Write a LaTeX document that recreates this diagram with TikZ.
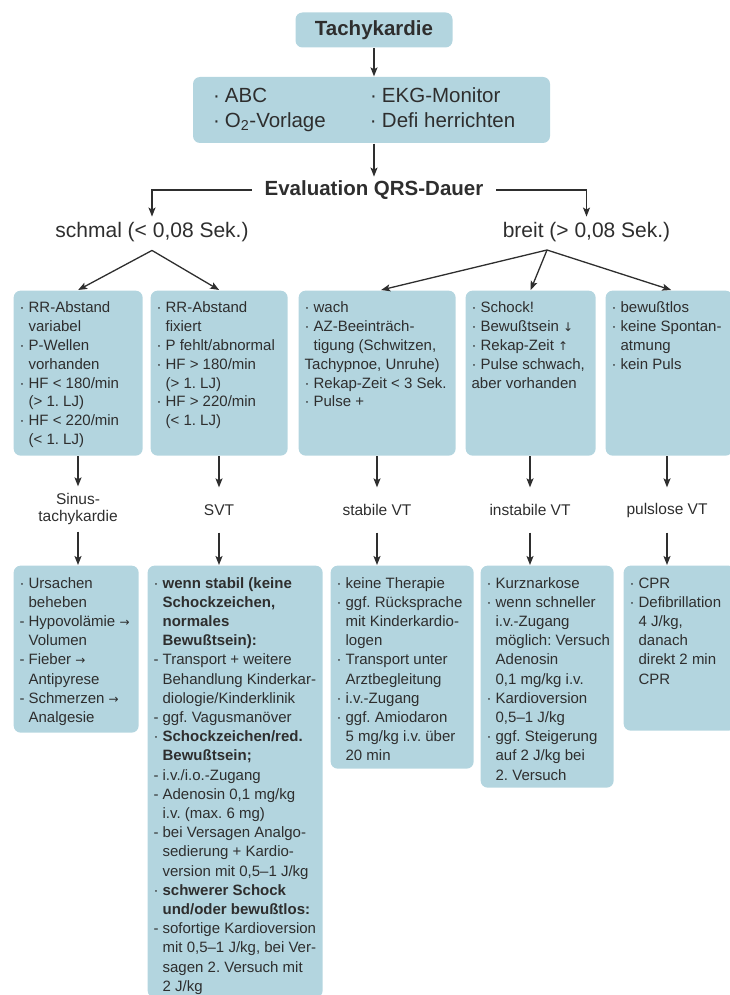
\documentclass[tikz,border=0pt]{standalone}
\usepackage{fontspec}
\setmainfont{Liberation Sans}
\newfontfamily\symfont{DejaVu Sans}
\usetikzlibrary{arrows.meta, positioning, calc}
\definecolor{cbox}{HTML}{B3D5DF}
\definecolor{cink}{HTML}{2E2E2E}
\tikzset{
  every picture/.style={line width=1.3pt},
  box/.style={fill=cbox, rounded corners=7pt, anchor=north west, inner xsep=6pt, inner ysep=9pt, text=cink},
  rowtop/.style={box, font=\fontsize{15}{18.8}\selectfont},
  rowbot/.style={box, font=\fontsize{15}{19.2}\selectfont},
  head/.style={font=\fontsize{20.5}{25}\bfseries\selectfont, text=cink},
  lbl/.style={font=\fontsize{15.5}{17.5}\selectfont, align=center, minimum height=44pt, inner sep=0pt, text=cink},
  arrow/.style={-{Stealth[length=9pt, width=7pt, inset=2pt]}, draw=cink, line width=1.3pt},
}
\frenchspacing
\newcommand{\bul}{\makebox[9pt][l]{·}}
\newcommand{\dbul}{\makebox[9pt][l]{-}}
\newcommand{\ind}{\hspace*{9pt}}
\newcommand{\sar}[1]{{\symfont\fontsize{12}{12}\selectfont #1}}
\newcommand{\inbox}[3]{\parbox[c][#2pt][t]{#1pt}{\begin{tabular}[t]{@{}l@{}}#3\end{tabular}}}

\begin{document}
\begin{tikzpicture}[x=1pt, y=-1pt]
  \useasboundingbox (0,0) rectangle (730,995);
  % head
  \node[head, fill=cbox, rounded corners=7pt, minimum width=157pt, minimum height=35pt] (tachy) at (374,30) {Tachykardie};
  \node[fill=cbox, rounded corners=7pt, minimum width=357pt, minimum height=66pt, inner sep=0pt, text=cink,
        font=\fontsize{20.5}{25}\selectfont] (prep) at (371.5,110)
    {\begin{tabular}{@{}p{157pt}@{}p{160pt}@{}}
       \makebox[12pt][l]{·}ABC & \makebox[12pt][l]{·}EKG-Monitor\\
       \makebox[12pt][l]{·}O\textsubscript{2}-Vorlage & \makebox[12pt][l]{·}Defi herrichten
     \end{tabular}};
  \node[head, inner xsep=12pt] (qrs) at (374,190) {Evaluation QRS-Dauer};
  \node[font=\fontsize{21}{25}\selectfont, text=cink, inner sep=5pt] (schmal) at (152,232) {schmal (< 0,08 Sek.)};
  \node[font=\fontsize{21}{25}\selectfont, text=cink, inner sep=5pt] (breit) at (586.5,232) {breit (> 0,08 Sek.)};
  \coordinate (ssplit) at ([yshift=-3pt]schmal.south);
  \coordinate (bsplit) at (547,250);

  % criteria
  \node[rowtop] (rrvar) at (13,290) {\inbox{117}{147}{%
    \bul RR-Abstand\\ \ind variabel\\ \bul P-Wellen\\ \ind vorhanden\\
    \bul HF < 180/min\\ \ind(> 1. LJ)\\ \bul HF < 220/min\\ \ind(< 1. LJ)}};
  \node[rowtop] (rrfix) at (150,290) {\inbox{125}{147}{%
    \bul RR-Abstand\\ \ind fixiert\\ \bul P fehlt/abnormal\\ \bul HF > 180/min\\
    \ind(> 1. LJ)\\ \bul HF > 220/min\\ \ind(< 1. LJ)}};
  \node[rowtop] (wach) at (298,290) {\inbox{145}{147}{%
    \bul wach\\ \bul AZ-Beeinträch-\\ \ind tigung (Schwitzen,\\ Tachypnoe, Unruhe)\\
    \bul Rekap-Zeit < 3 Sek.\\ \bul Pulse +}};
  \node[rowtop] (schock) at (465,290) {\inbox{118}{147}{%
    \bul Schock!\\ \bul Bewußtsein \sar{↓}\\ \bul Rekap-Zeit \sar{↑}\\
    \bul Pulse schwach,\\ aber vorhanden}};
  \node[rowtop] (bewl) at (605,290) {\inbox{115}{147}{%
    \bul bewußtlos\\ \bul keine Spontan-\\ \ind atmung\\ \bul kein Puls}};

  % diagnoses
  \node[lbl] (sinus) at (78,509) {Sinus-\\tachykardie};
  \node[lbl] (svt) at (219,510) {SVT};
  \node[lbl] (stvt) at (377,510) {stabile VT};
  \node[lbl] (instvt) at (530,510) {instabile VT};
  \node[lbl] (plvt) at (667,510) {pulslose VT};

  % therapy
  \node[rowbot] (ursa) at (13,565) {\inbox{113}{149}{%
    \bul Ursachen\\ \ind beheben\\ \dbul Hypovolämie \sar{→}\\ \ind Volumen\\
    \dbul Fieber \sar{→}\\ \ind Antipyrese\\ \dbul Schmerzen \sar{→}\\ \ind Analgesie}};
  \node[rowbot] (svtther) at (147,565) {\inbox{163}{414}{%
    \bul\textbf{wenn stabil (keine}\\ \ind\textbf{Schockzeichen,}\\ \ind\textbf{normales}\\ \ind\textbf{Bewußtsein):}\\
    \dbul Transport + weitere\\ \ind Behandlung Kinderkar-\\ \ind diologie/Kinderklinik\\
    \dbul ggf. Vagusmanöver\\
    \bul\textbf{Schockzeichen/red.}\\ \ind\textbf{Bewußtsein;}\\
    \dbul i.v./i.o.-Zugang\\ \dbul Adenosin 0,1 mg/kg\\ \ind i.v. (max. 6 mg)\\
    \dbul bei Versagen Analgo-\\ \ind sedierung + Kardio-\\ \ind version mit 0,5–1 J/kg\\
    \bul\textbf{schwerer Schock}\\ \ind\textbf{und/oder bewußtlos:}\\
    \dbul sofortige Kardioversion\\ \ind mit 0,5–1 J/kg, bei Ver-\\ \ind sagen 2. Versuch mit\\ \ind 2 J/kg}};
  \node[rowbot] (stther) at (330,565) {\inbox{131}{185}{%
    \bul keine Therapie\\ \bul ggf. Rücksprache\\ \ind mit Kinderkardio-\\ \ind logen\\
    \bul Transport unter\\ \ind Arztbegleitung\\ \bul i.v.-Zugang\\
    \bul ggf. Amiodaron\\ \ind 5 mg/kg i.v. über\\ \ind 20 min}};
  \node[rowbot] (insther) at (480,565) {\inbox{121}{204}{%
    \bul Kurznarkose\\ \bul wenn schneller\\ \ind i.v.-Zugang\\ \ind möglich: Versuch\\
    \ind Adenosin\\ \ind 0,1 mg/kg i.v.\\ \bul Kardioversion\\ \ind 0,5–1 J/kg\\
    \bul ggf. Steigerung\\ \ind auf 2 J/kg bei\\ \ind 2. Versuch}};
  \node[rowbot] (plther) at (623,565) {\inbox{100}{147}{%
    \bul CPR\\ \bul Defibrillation\\ \ind 4 J/kg,\\ \ind danach\\ \ind direkt 2 min\\ \ind CPR}};

  % arrows
  \draw[arrow] (tachy.south) -- (tachy.south |- prep.north);
  \draw[arrow] (qrs.north |- prep.south) -- (qrs.north);
  \draw[arrow] (qrs.west) -| (schmal.north);
  \draw[arrow] (qrs.east) -| (breit.north);
  \draw[arrow] (ssplit) -- (rrvar.north);
  \draw[arrow] (ssplit) -- (rrfix.north);
  \draw[arrow] (bsplit) -- ([xshift=4pt]wach.north);
  \draw[arrow] (bsplit) -- (schock.north);
  \draw[arrow] (bsplit) -- ([xshift=2pt]bewl.north);
  \foreach \a/\b/\c in {rrvar/sinus/ursa, rrfix/svt/svtther, wach/stvt/stther, schock/instvt/insther, bewl/plvt/plther} {
    \draw[arrow] (\b.north |- \a.south) -- (\b.north);
    \draw[arrow] (\b.south) -- (\b.south |- \c.north);
  }
\end{tikzpicture}
\end{document}
